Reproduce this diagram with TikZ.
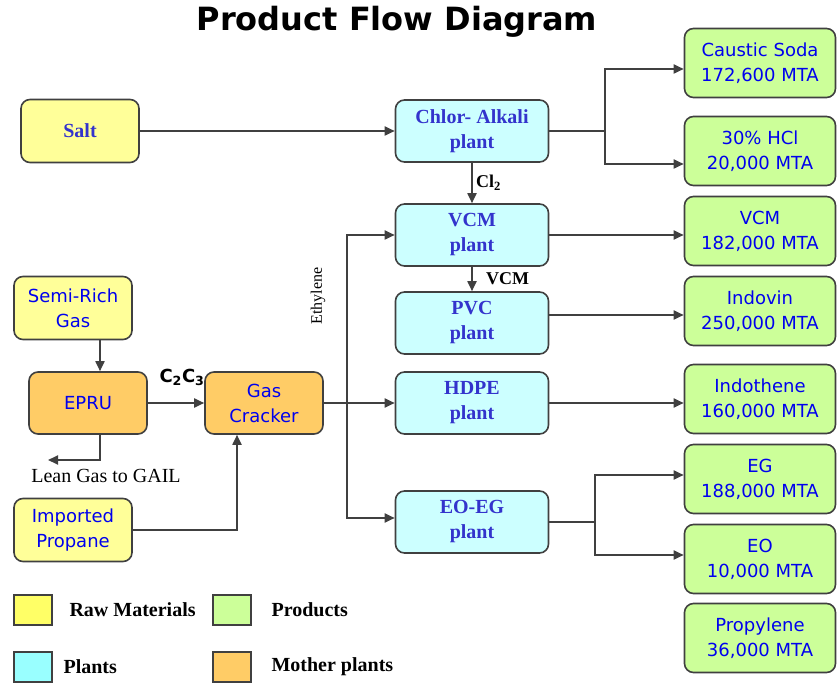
\documentclass[tikz,border=0pt]{standalone}
\usepackage{fontspec}
\setmainfont{Liberation Serif}
\newfontfamily\tahoma{DejaVu Sans}
\usetikzlibrary{arrows.meta, positioning, calc}
\usepackage{xcolor}

\definecolor{rawfill}{HTML}{FFFF99}
\definecolor{plantfill}{HTML}{CCFFFF}
\definecolor{prodfill}{HTML}{CCFF99}
\definecolor{motherfill}{HTML}{FFCC66}
\definecolor{boxline}{HTML}{404040}
\definecolor{prodtext}{HTML}{0000EE}
\definecolor{planttext}{HTML}{3333CC}
\definecolor{rawkey}{HTML}{FFFF66}
\definecolor{plantkey}{HTML}{99FFFF}

\begin{document}
\begin{tikzpicture}[x=1pt, y=-1pt,
      box/.style={draw=boxline, line width=1.6pt, rounded corners=9pt,
                  align=center, inner sep=2pt},
      raw/.style={box, fill=rawfill, minimum width=118pt, minimum height=63pt,
                  font=\tahoma\fontsize{18}{25}\selectfont, text=prodtext},
      mother/.style={box, fill=motherfill, minimum width=118pt, minimum height=62pt,
                  font=\tahoma\fontsize{18}{25}\selectfont, text=prodtext},
      plant/.style={box, fill=plantfill, minimum width=153pt, minimum height=62pt,
                  font=\bfseries\fontsize{20}{25}\selectfont, text=planttext},
      prod/.style={box, fill=prodfill, minimum width=151pt, minimum height=69pt,
                  font=\tahoma\fontsize{18}{25}\selectfont, text=prodtext},
      key/.style={draw=boxline, line width=1.5pt, minimum width=38pt, minimum height=30pt},
      keytext/.style={anchor=west, font=\bfseries\fontsize{20}{22}\selectfont},
      lbl/.style={font=\bfseries\fontsize{18}{20}\selectfont},
      line/.style={draw=boxline, line width=1.8pt},
      arr/.style={line, -{Triangle[length=10pt, width=9pt]}}
    ]
    \useasboundingbox (0,0) rectangle (838,684);

    % Titel
    \node[font=\tahoma\bfseries\fontsize{32}{36}\selectfont] (title) at (397,22) {Product Flow Diagram};

    % Rohstoffe
    \node[raw, text=planttext, font=\bfseries\fontsize{20}{25}\selectfont] (salt) at (80,131) {Salt};
    \node[raw] (semi) at (73,308) {Semi-Rich\\Gas};
    \node[raw] (propane) at (73,530) {Imported\\Propane};

    % Mutteranlagen
    \node[mother] (epru) at (88,403) {EPRU};
    \node[mother] (cracker) at (264,403) {Gas\\Cracker};

    % Anlagen
    \node[plant] (chlor) at (472,131) {Chlor- Alkali\\plant};
    \node[plant] (vcmp) at (472,235) {VCM\\plant};
    \node[plant] (pvc) at (472,323) {PVC\\plant};
    \node[plant] (hdpe) at (472,403) {HDPE\\plant};
    \node[plant] (eoeg) at (472,522) {EO-EG\\plant};

    % Produkte
    \node[prod] (soda) at (760,63) {Caustic Soda\\172,600 MTA};
    \node[prod] (hcl) at (760,151) {30\% HCl\\20,000 MTA};
    \node[prod] (vcm) at (760,231) {VCM\\182,000 MTA};
    \node[prod] (indovin) at (760,311) {Indovin\\250,000 MTA};
    \node[prod] (indothene) at (760,399) {Indothene\\160,000 MTA};
    \node[prod] (eg) at (760,479) {EG\\188,000 MTA};
    \node[prod] (eo) at (760,559) {EO\\10,000 MTA};
    \node[prod] (propylene) at (760,638) {Propylene\\36,000 MTA};

    % Verzweigungen
    \coordinate (csplit) at (605,131);
    \coordinate (esplit) at (595,522);
    \coordinate (eth) at (347,403);
    \coordinate (leanend) at (48,460);

    % Verbindungen
    \draw[arr] (salt) -- (chlor);
    \draw[line] (chlor) -- (csplit);
    \draw[arr] (csplit) |- ([yshift=-6pt]soda.west);
    \draw[arr] (csplit) |- ([yshift=-13pt]hcl.west);
    \draw[arr] (chlor) -- node[lbl, right] {Cl\textsubscript{2}} (vcmp);
    \draw[arr] (vcmp.east) -- (vcmp.east -| vcm.west);
    \draw[arr] (vcmp) -- node[lbl, right=10pt] {VCM} (pvc);
    \draw[arr] ([yshift=8pt]pvc.east) -- ([yshift=8pt]pvc.east -| indovin.west);
    \draw[arr] (hdpe.east) -- (hdpe.east -| indothene.west);
    \draw[line] (eoeg) -- (esplit);
    \draw[arr] (esplit) |- ([yshift=4pt]eg.west);
    \draw[arr] (esplit) |- ([yshift=4pt]eo.west);

    \draw[arr] ([xshift=12pt]epru.north |- semi.south) -- ([xshift=12pt]epru.north);
    \draw[arr] (epru) -- node[above=13pt, font=\tahoma\bfseries\fontsize{18}{20}\selectfont, xshift=6pt]
      {C\textsubscript{2}C\textsubscript{3}} (cracker);
    \draw[arr] ([xshift=12pt]epru.south) |- (leanend);
    \node[font=\fontsize{20}{22}\selectfont] (lean) at (106,476) {Lean Gas to GAIL};
    \draw[arr] (propane.east) -| ([xshift=-27pt]cracker.south);

    \draw[arr] (cracker) -- (hdpe);
    \draw[arr] (eth) |- (vcmp);
    \draw[arr] (eth) |- ([yshift=4pt]eoeg.west);
    \node[rotate=90, font=\fontsize{16}{18}\selectfont] (ethylene) at (318,296) {Ethylene};

    % Legende
    \node[key, fill=rawkey] (kraw) at (33,610) {};
    \node[keytext] at (66,610) {Raw Materials};
    \node[key, fill=prodfill] (kprod) at (232,610) {};
    \node[keytext] at (268,610) {Products};
    \node[key, fill=plantkey] (kplant) at (33,667) {};
    \node[keytext] at (60,667) {Plants};
    \node[key, fill=motherfill] (kmother) at (232,667) {};
    \node[keytext] at (268,667) {Mother plants};
  \end{tikzpicture}
\end{document}
